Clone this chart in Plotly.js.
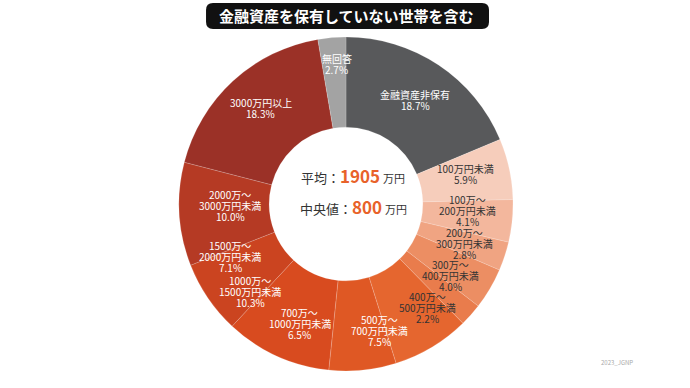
<!DOCTYPE html>
<html>
<head>
<meta charset="utf-8">
<script src="https://cdn.plot.ly/plotly-3.0.1.min.js"></script>
<style>html,body{margin:0;padding:0;background:#fff;}#chart{width:690px;height:388px;}</style>
</head>
<body>
<div id="chart"></div>
<script>
// ---- data ----
const categories = [
  "金融資産非保有", "100万円未満", "100万～<br>200万円未満", "200万～<br>300万円未満",
  "300万～<br>400万円未満", "400万～<br>500万円未満", "500万～<br>700万円未満",
  "700万～<br>1000万円未満", "1000万～<br>1500万円未満", "1500万～<br>2000万円未満",
  "2000万～<br>3000万円未満", "3000万円以上", "無回答"
];
const shares = [18.7, 5.9, 4.1, 2.8, 4.0, 2.2, 7.5, 6.5, 10.3, 7.1, 10.0, 18.3, 2.7];
const meanValue = 1905;
const medianValue = 800;
const titleText = "金融資産を保有していない世帯を含む";
const sourceText = "2023_JGNP";

// ---- styles ----
const colors = ["#58595b", "#f6cdbb", "#f3b79d", "#f0a482", "#ec8e63", "#e97c4c", "#e5662f",
  "#df5824", "#d84b1f", "#cb4420", "#b53a24", "#9b3127", "#a3a3a3"];
const textColors = ["#ffffff", "#333333", "#333333", "#333333", "#333333", "#333333", "#ffffff",
  "#ffffff", "#ffffff", "#ffffff", "#ffffff", "#ffffff", "#ffffff"];
// label placement tweaks (degrees added to slice mid-angle, radius in px)
const labelAngleShift = [0, -2, -3, 0, 4, 10, 16, 27, 23, 10, 3, 1, 1];
const labelRadius = [125, 123, 122, 125, 127, 132, 131, 128, 130, 127, 116, 128, 140];
const W = 690, H = 388;
const CX = 346, CY = 204, R = 167, HOLE = 0.46;
const LINE = 11;
const font = "'Noto Sans CJK JP', 'Noto Sans', sans-serif";

const pa = (x, y) => ({x: x / W, y: 1 - y / H, xref: "paper", yref: "paper",
  xanchor: "center", yanchor: "middle", showarrow: false, borderpad: 0});

const total = shares.reduce((a, b) => a + b, 0);
let cum = 0;
const annotations = [];
shares.forEach((v, i) => {
  const mid = (cum + v / 2) / total * 2 * Math.PI + labelAngleShift[i] * Math.PI / 180;
  cum += v;
  const px = CX + labelRadius[i] * Math.sin(mid);
  const py = CY - labelRadius[i] * Math.cos(mid);
  const lines = categories[i].split("<br>").concat([v.toFixed(1) + "%"]);
  lines.forEach((ln, k) => {
    annotations.push(Object.assign(pa(px, py + (k - (lines.length - 1) / 2) * LINE), {
      text: ln,
      font: {family: font, size: 10, color: textColors[i]}
    }));
  });
});

annotations.push(Object.assign(pa(353, 176), {
  text: "平均：<span style='color:#e8622a;font-size:17px;font-weight:bold'>" + meanValue + "</span> <span style='font-size:11px'>万円</span>",
  font: {family: font, size: 13, color: "#333333"}
}));
annotations.push(Object.assign(pa(353, 206), {
  text: "中央値：<span style='color:#e8622a;font-size:17px;font-weight:bold'>" + medianValue + "</span> <span style='font-size:11px'>万円</span>",
  font: {family: font, size: 13, color: "#333333"}
}));
annotations.push(Object.assign(pa(347, 16), {
  text: "<b>" + titleText + "</b>",
  font: {family: font, size: 15, color: "#ffffff"}
}));
annotations.push(Object.assign(pa(617, 362), {
  text: sourceText, font: {family: font, size: 6, color: "#aaaaaa"}
}));

// rounded title box
function roundRect(x0, y0, x1, y1, r) {
  const X = v => (v / W).toFixed(4), Y = v => (1 - v / H).toFixed(4);
  return `M${X(x0 + r)},${Y(y0)} L${X(x1 - r)},${Y(y0)} Q${X(x1)},${Y(y0)} ${X(x1)},${Y(y0 + r)} ` +
    `L${X(x1)},${Y(y1 - r)} Q${X(x1)},${Y(y1)} ${X(x1 - r)},${Y(y1)} L${X(x0 + r)},${Y(y1)} ` +
    `Q${X(x0)},${Y(y1)} ${X(x0)},${Y(y1 - r)} L${X(x0)},${Y(y0 + r)} Q${X(x0)},${Y(y0)} ${X(x0 + r)},${Y(y0)} Z`;
}

const trace = {
  type: "pie",
  labels: categories,
  values: shares,
  sort: false,
  direction: "clockwise",
  rotation: 0,
  hole: HOLE,
  textinfo: "none",
  hoverinfo: "none",
  marker: {colors: colors, line: {color: "rgba(255,255,255,0.35)", width: 0.5}},
  domain: {x: [(CX - R) / W, (CX + R) / W], y: [1 - (CY + R) / H, 1 - (CY - R) / H]},
  showlegend: false
};

const layout = {
  width: W, height: H,
  margin: {l: 0, r: 0, t: 0, b: 0},
  paper_bgcolor: "#ffffff",
  showlegend: false,
  annotations: annotations,
  shapes: [{type: "path", xref: "paper", yref: "paper", path: roundRect(206, 3, 489, 29, 7),
    fillcolor: "#111111", line: {width: 0}, layer: "below"}]
};

Plotly.newPlot("chart", [trace], layout, {staticPlot: true, displayModeBar: false});
</script>
</body>
</html>
